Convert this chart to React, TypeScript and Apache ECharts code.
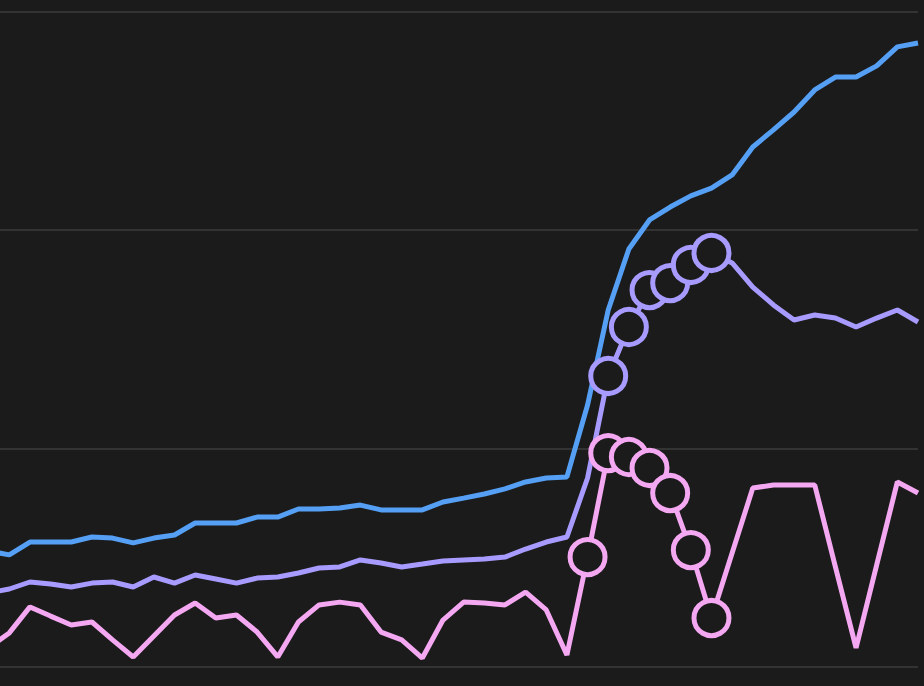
import React, { useEffect, useRef } from "react";
import * as echarts from "echarts";

// day index along the x axis (one point per day, -1 is partly off the left edge)
const days = [
  -1, 0, 1, 2, 3, 4, 5, 6, 7, 8, 9, 10, 11, 12, 13, 14, 15, 16, 17, 18, 19, 20, 21, 22,
  23, 24, 25, 26, 27, 28, 29, 30, 31, 32, 33, 34, 35, 36, 37, 38, 39, 40, 41, 42, 43, 44,
];

const blueValues = [
  53.1, 51.3, 57.2, 57.2, 57.2, 59.5, 59.0, 56.8, 59.0, 60.4, 65.9, 65.9, 65.9, 68.6, 68.6, 72.3,
  72.3, 72.8, 74.1, 71.9, 71.9, 71.9, 75.5, 77.3, 79.2, 81.5, 84.7, 86.5, 87.0, 119.9, 163.4, 191.3,
  204.6, 210.5, 215.6, 219.2, 225.2, 238.0, 245.8, 254.0, 264.1, 270.0, 270.0, 275.1, 283.8, 285.6,
];

const purpleValues = [
  33.9, 35.7, 38.9, 38.0, 36.6, 38.4, 38.9, 36.6, 41.2, 38.4, 42.1, 40.3, 38.4, 40.7, 41.2, 43.0,
  45.3, 45.8, 49.0, 47.6, 45.8, 47.1, 48.5, 49.0, 49.4, 50.3, 54.0, 57.2, 59.5, 86.5, 133.2, 155.6,
  172.5, 175.7, 184.0, 189.5, 184.9, 173.9, 165.7, 158.8, 161.1, 159.7, 155.6, 159.7, 163.4, 157.9,
];

const pinkValues = [
  8.7, 15.6, 27.5, 23.3, 19.2, 20.6, 12.4, 4.6, 14.2, 23.8, 29.3, 22.4, 23.8, 16.0, 4.6, 20.6,
  28.4, 29.7, 28.4, 16.0, 12.4, 4.1, 21.5, 29.7, 29.3, 28.4, 34.3, 26.1, 5.5, 50.3, 97.9, 96.1,
  91.1, 79.6, 53.5, 22.4, 52.2, 81.9, 83.3, 83.3, 83.3, 45.8, 8.7, 46.7, 84.7, 79.6,
];

// days that get a ring marker
const purpleMarked = [29, 30, 31, 32, 33, 34];
const pinkMarked = [28, 29, 30, 31, 32, 33, 34];

const BG = "#1b1b1b";
const BLUE = "#55a0f5";
const PURPLE = "#a89bff";
const PINK = "#f5a8f2";

const buildData = (values: number[], marked: number[] = []) =>
  days.map((d, i) =>
    marked.includes(d)
      ? { value: [d, values[i]], symbol: "circle", symbolSize: 35 }
      : { value: [d, values[i]] }
  );

const lineSeries = (name: string, color: string, values: number[], marked?: number[]) => ({
  name,
  type: "line",
  data: buildData(values, marked),
  symbol: "none",
  lineStyle: { color, width: 5 },
  itemStyle: { color: BG, borderColor: color, borderWidth: 5 },
  emphasis: { disabled: true },
});

const App: React.FC = () => {
  const chartRef = useRef<HTMLDivElement>(null);

  useEffect(() => {
    if (!chartRef.current) return;
    document.body.style.margin = "0";
    const chart = echarts.init(chartRef.current, null, { renderer: "svg" });

    const option = {
      animation: false,
      backgroundColor: BG,
      grid: { left: 0, right: 6, top: 11.5, bottom: 19 },
      xAxis: {
        type: "value",
        min: -0.45,
        max: 44,
        show: false,
      },
      yAxis: {
        type: "value",
        min: 0,
        max: 300,
        interval: 100,
        axisLine: { show: false },
        axisTick: { show: false },
        axisLabel: { show: false },
        splitLine: { lineStyle: { color: "#333333", width: 2 } },
      },
      series: [
        lineSeries("blue", BLUE, blueValues),
        lineSeries("purple", PURPLE, purpleValues, purpleMarked),
        lineSeries("pink", PINK, pinkValues, pinkMarked),
      ],
    };

    chart.setOption(option);

    return () => {
      chart.dispose();
    };
  }, []);

  return <div ref={chartRef} style={{ width: 924, height: 686 }} />;
};

export default App;
